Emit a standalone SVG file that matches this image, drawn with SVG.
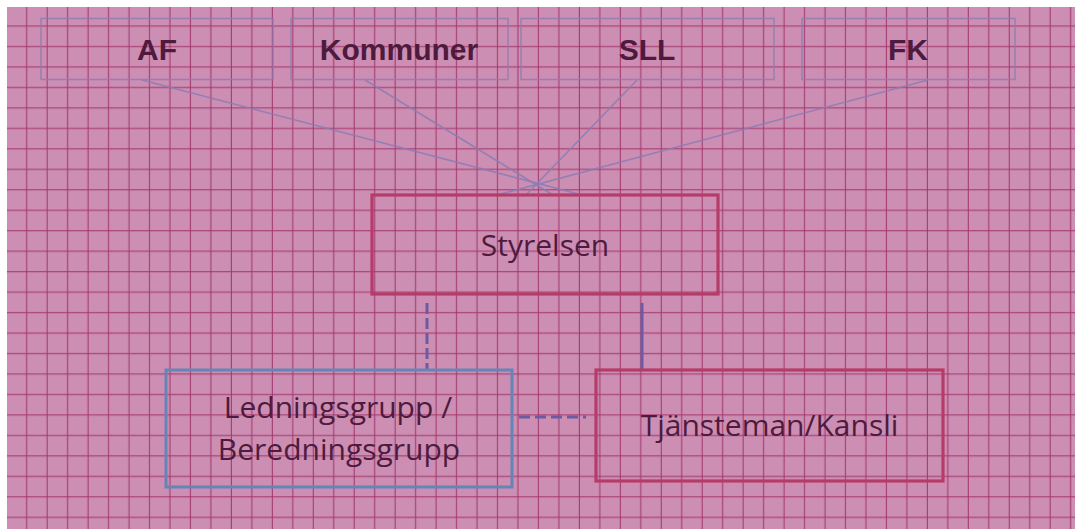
<svg xmlns="http://www.w3.org/2000/svg" width="1075" height="529" viewBox="0 0 1075 529">
  <style>
    .top-box { fill: none; stroke: #8a7cb4; stroke-width: 1.5; stroke-opacity: 0.8; }
    .top-text { font-family: "Liberation Sans", Arial, sans-serif; font-weight: bold; font-size: 30px; fill: #4e1a3e; text-anchor: middle; }
    .text { font-family: "Open Sans", "Liberation Sans", sans-serif; font-size: 30px; fill: #4e1a3e; text-anchor: middle; }
    .red-box { fill: none; stroke: #b53c68; stroke-width: 3.2; }
    .blue-box { fill: none; stroke: #6585b6; stroke-width: 3; }
    .fan { stroke: #8a7cb4; stroke-width: 1.6; stroke-opacity: 0.85; fill: none; }
    .link { stroke: #6b5ba2; stroke-width: 3; fill: none; }
    .dash-v { stroke-dasharray: 11 4; }
    .dash-h { stroke-dasharray: 11 5; }
  </style>
  <defs>
    <pattern id="grid" patternUnits="userSpaceOnUse" x="0" y="0" width="20.47" height="20.47">
      <rect x="0" y="0" width="20.47" height="20.47" fill="#cc8eb2"/>
      <line x1="6.2" y1="0" x2="6.2" y2="20.47" stroke="#a2346c" stroke-width="1"/>
      <line x1="0" y1="5.6" x2="20.47" y2="5.6" stroke="#a2346c" stroke-width="1"/>
    </pattern>
  </defs>
  <rect x="0" y="0" width="1075" height="529" fill="#ffffff"/>
  <rect x="7" y="7" width="1068" height="522" fill="url(#grid)"/>

  <g id="connectors">
    <line class="fan" x1="142" y1="80" x2="582" y2="195"/>
    <line class="fan" x1="365" y1="80" x2="553" y2="195"/>
    <line class="fan" x1="637" y1="80" x2="526" y2="195"/>
    <line class="fan" x1="928" y1="80" x2="497" y2="195"/>
    <line class="link dash-v" x1="427" y1="303" x2="427" y2="370"/>
    <line class="link" x1="642" y1="303" x2="642" y2="370"/>
    <line class="link dash-h" x1="519" y1="417" x2="586" y2="417"/>
  </g>

  <g id="node-af">
    <rect class="top-box" x="41" y="18.5" width="232" height="61"/>
    <text class="top-text" x="157" y="60">AF</text>
  </g>
  <g id="node-kommuner">
    <rect class="top-box" x="291" y="18.5" width="217" height="61"/>
    <text class="top-text" x="399" y="60">Kommuner</text>
  </g>
  <g id="node-sll">
    <rect class="top-box" x="521" y="18.5" width="253" height="61"/>
    <text class="top-text" x="647" y="60">SLL</text>
  </g>
  <g id="node-fk">
    <rect class="top-box" x="802" y="18.5" width="213" height="61"/>
    <text class="top-text" x="908" y="60">FK</text>
  </g>

  <g id="node-styrelsen">
    <rect class="red-box" x="372" y="195" width="346" height="99"/>
    <text class="text" x="545" y="256">Styrelsen</text>
  </g>
  <g id="node-ledningsgrupp">
    <rect class="blue-box" x="166" y="370" width="346" height="117"/>
    <text class="text" x="338" y="418">Ledningsgrupp /</text>
    <text class="text" x="339" y="460">Beredningsgrupp</text>
  </g>
  <g id="node-tjansteman">
    <rect class="red-box" x="596" y="370" width="347" height="111"/>
    <text class="text" x="769.5" y="436">Tjänsteman/Kansli</text>
  </g>
</svg>
